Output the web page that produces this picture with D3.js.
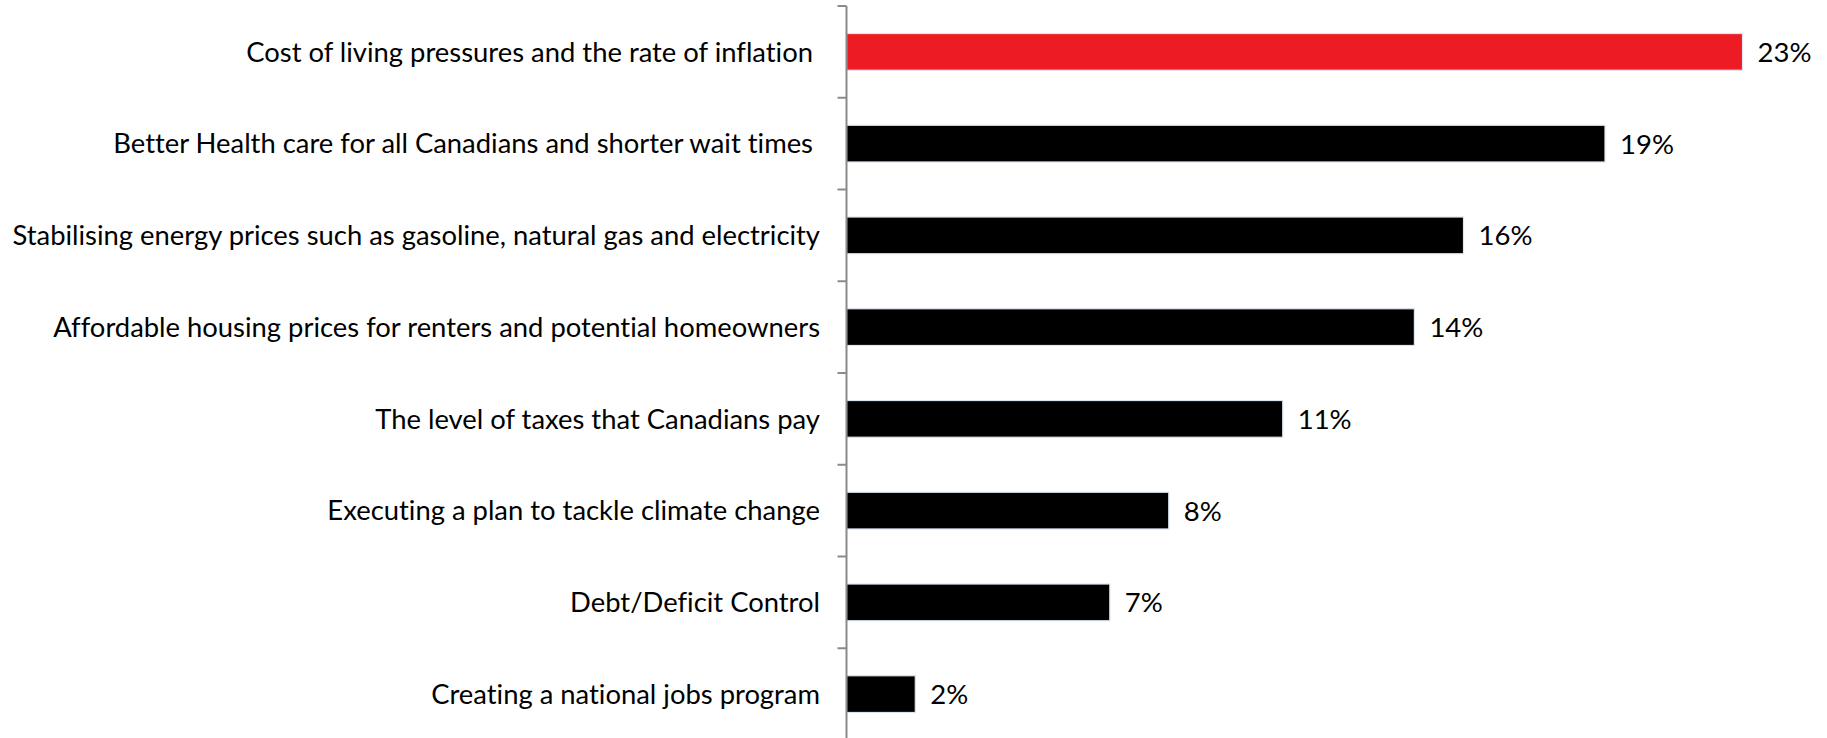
<!DOCTYPE html>
<html>
<head>
<meta charset="utf-8">
<script src="https://cdn.jsdelivr.net/npm/d3@7"></script>
<style>
  html, body { margin: 0; padding: 0; background: #ffffff; }
  svg { display: block; }
  text { font-family: Lato, "Open Sans", sans-serif; fill: #000; white-space: pre; font-variant-ligatures: none; }
</style>
</head>
<body>
<svg id="chart" width="1827" height="738"></svg>
<script>
// ---- data ----
const categories = [
  "Cost of living pressures and the rate of inflation ",
  "Better Health care for all Canadians and shorter wait times ",
  "Stabilising energy prices such as gasoline, natural gas and electricity",
  "Affordable housing prices for renters and potential homeowners",
  "The level of taxes that Canadians pay",
  "Executing a plan to tackle climate change",
  "Debt/Deficit Control",
  "Creating a national jobs program"
];
const values = [22.8, 19.3, 15.7, 14.45, 11.1, 8.2, 6.7, 1.75];
const valueLabels = ["23%", "19%", "16%", "14%", "11%", "8%", "7%", "2%"];
const barColors = ["#ed1c24", "#000000", "#000000", "#000000", "#000000", "#000000", "#000000", "#000000"];

// ---- layout ----
const svg = d3.select("#chart");
const axisX = 846.5;
const y = d3.scaleBand().domain(categories).range([6, 740]).paddingInner(0.6).paddingOuter(0.3);
const yTicks = d3.scaleBand().domain(categories).range([6, 740]);
const x = d3.scaleLinear().domain([0, 25]).range([axisX, axisX + 982.5]);

// bars
svg.append("g").selectAll("rect").data(categories).join("rect")
  .attr("x", axisX)
  .attr("y", d => y(d))
  .attr("width", (d, i) => x(values[i]) - axisX)
  .attr("height", y.bandwidth())
  .attr("fill", (d, i) => barColors[i])
  .attr("stroke", "#dbe4ef")
  .attr("stroke-width", 1.2);

// value labels
svg.append("g").selectAll("text").data(categories).join("text")
  .attr("x", (d, i) => x(values[i]) + 15)
  .attr("y", d => y(d) + y.bandwidth() / 2)
  .attr("dy", "0.36em")
  .attr("font-size", 27.5)
  .text((d, i) => valueLabels[i]);

// axis line with ticks at band boundaries
const axisG = svg.append("g");
axisG.append("line")
  .attr("x1", axisX).attr("x2", axisX)
  .attr("y1", 6).attr("y2", 738)
  .attr("stroke", "#8a8a8a").attr("stroke-width", 2);
const tickPos = categories.map(d => yTicks(d));
axisG.selectAll("line.tick").data(tickPos).join("line")
  .attr("class", "tick")
  .attr("x1", axisX - 9).attr("x2", axisX)
  .attr("y1", d => d).attr("y2", d => d)
  .attr("stroke", "#8a8a8a").attr("stroke-width", 2);

// category labels
svg.append("g").selectAll("text").data(categories).join("text")
  .attr("x", 820)
  .attr("y", d => y(d) + y.bandwidth() / 2)
  .attr("dy", "0.36em")
  .attr("text-anchor", "end")
  .attr("font-size", 27.4)
  .text(d => d);
</script>
</body>
</html>
